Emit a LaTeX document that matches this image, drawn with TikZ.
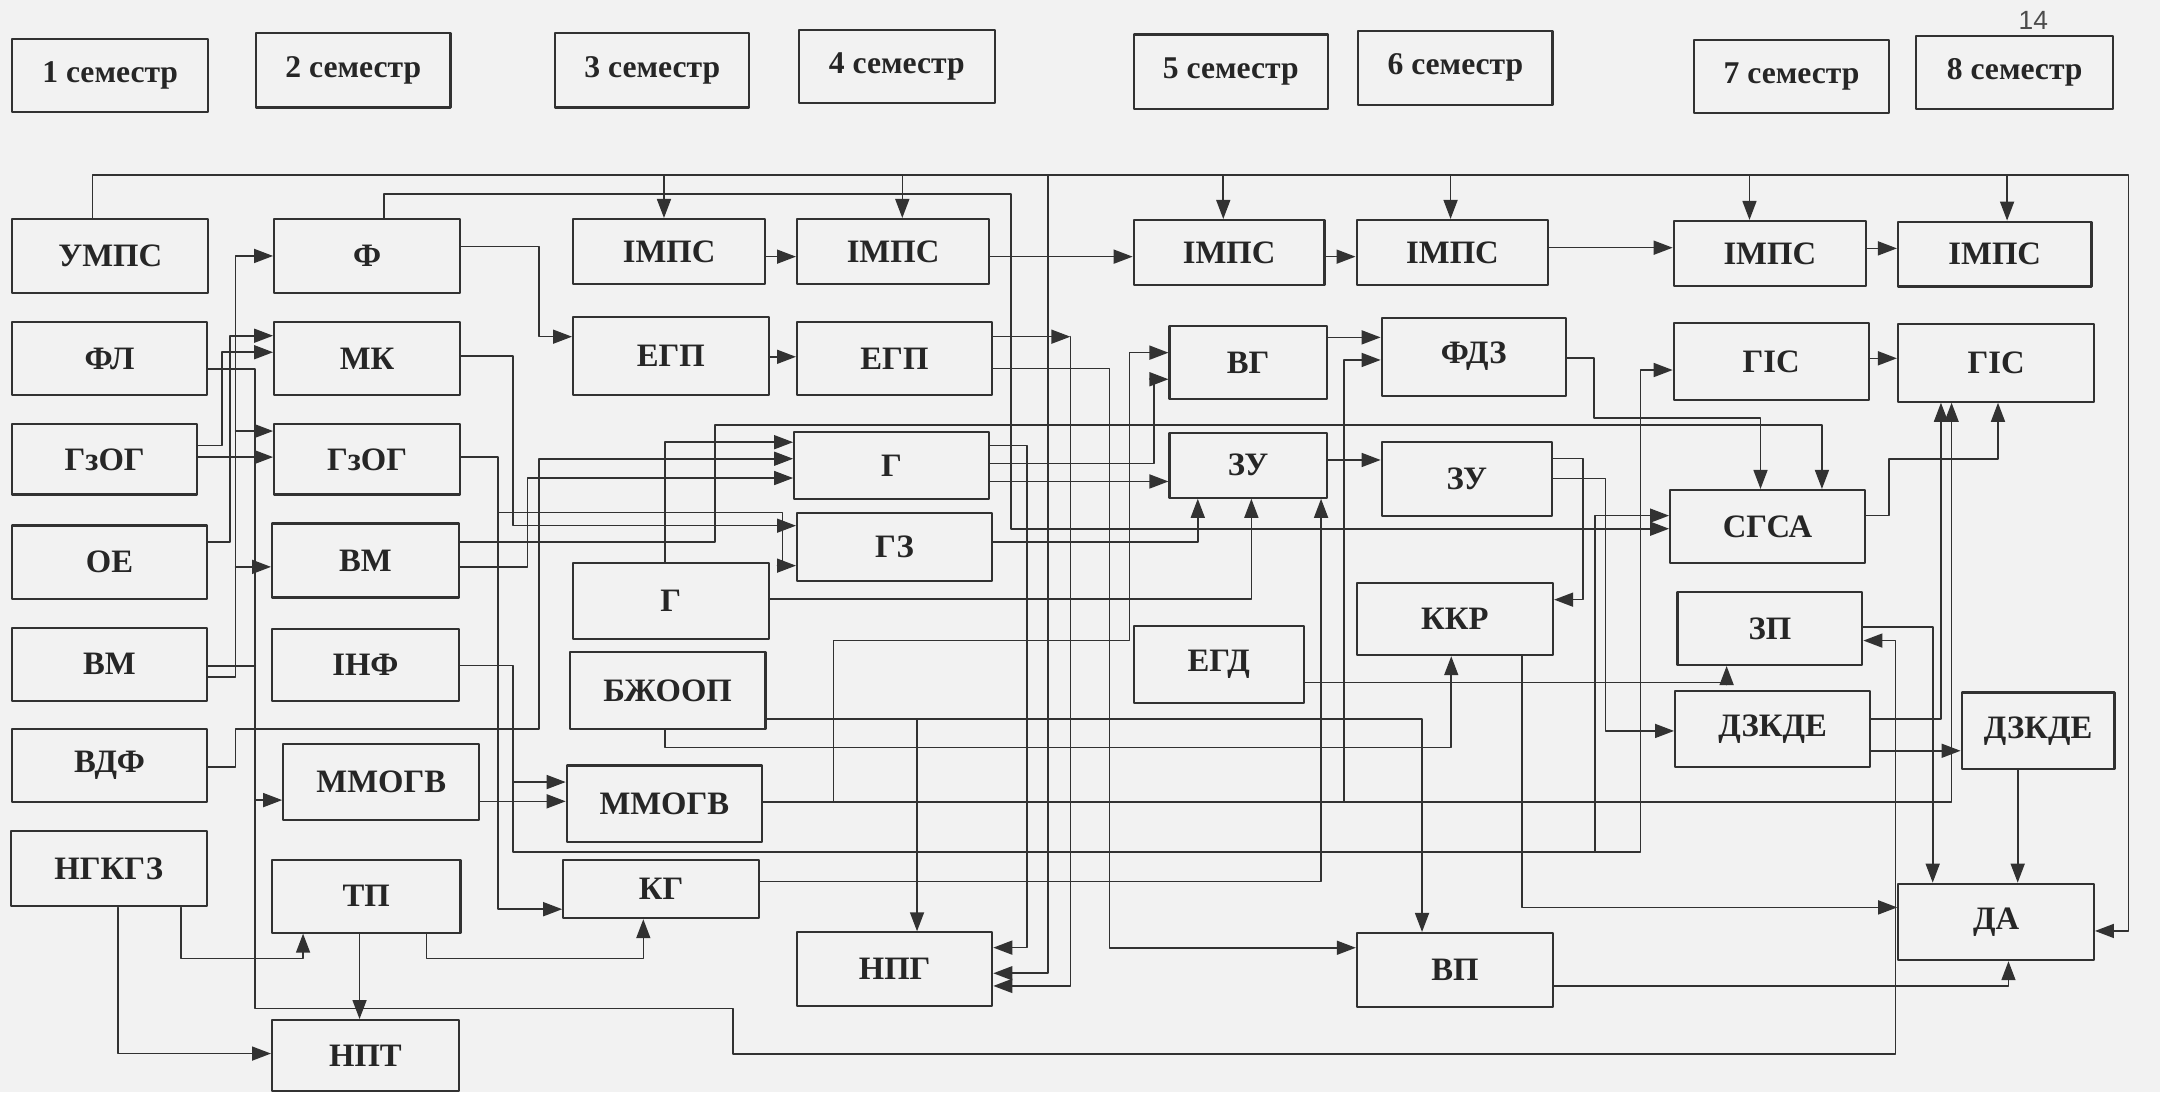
\documentclass[tikz,border=0pt]{standalone}
\usepackage{fontspec}
\setmainfont{Liberation Serif}
\newfontfamily\pgnum{Liberation Sans}
\usetikzlibrary{arrows.meta}
\definecolor{ln}{RGB}{50,50,50}
\definecolor{bg}{RGB}{242,242,242}
\begin{document}
\begin{tikzpicture}[x=0.13776mm, y=-0.13776mm, line cap=round, line join=round,
  box/.style={draw=ln, line width=0.6pt, inner sep=0pt, text=black!85, font=\fontsize{9.3}{11}\selectfont\bfseries},
  sem/.style={box, font=\fontsize{9}{11}\selectfont\bfseries},
  wire/.style={draw=ln, line width=0.45pt},
  arr/.style={wire, -{Triangle[length=1.9mm,width=1.4mm]}}]
\def\u{0.13776mm}
\def\blk#1#2#3#4#5#6#7{\node[#1, minimum width=(#5-#3)*\u, minimum height=(#6-#4)*\u] (#2) at ({(#3+#5)/2},{(#4+#6)/2}) {#7};}
\fill[bg] (0,0) rectangle (1568,793);
\useasboundingbox (0,0) rectangle (1568,793);
% semesters
\blk{sem}{s1}{9}{28}{151}{81}{1 семестр}
\blk{sem}{s2}{186}{24}{327}{78}{2 семестр}
\blk{sem}{s3}{403}{24}{544}{78}{3 семестр}
\blk{sem}{s4}{580}{22}{722}{75}{4 семестр}
\blk{sem}{s5}{823}{25}{964}{79}{5 семестр}
\blk{sem}{s6}{986}{22.5}{1127}{76}{6 семестр}
\blk{sem}{s7}{1230}{29}{1371}{82}{7 семестр}
\blk{sem}{s8}{1391}{26}{1534}{79}{8 семестр}
\node[font=\pgnum\fontsize{7.5}{9}\selectfont, text=black!70] (pg) at (1476,15) {14};
% column 1
\blk{box}{umps}{9}{159}{151}{213}{УМПС}
\blk{box}{fl}{9}{233.5}{150}{287}{ФЛ}
\blk{box}{gzog}{9}{308}{143}{359}{ГзОГ}
\blk{box}{oe}{9}{381.5}{150}{434.5}{ОЕ}
\blk{box}{vm}{9}{455.7}{150}{508.8}{ВМ}
\blk{box}{vdf}{9}{529.2}{150}{582.2}{ВДФ}
\blk{box}{ngkgz}{8}{603}{150}{658}{НГКГЗ}
% column 2
\blk{box}{f}{199}{159}{334}{213}{Ф}
\blk{box}{mk}{199}{233.5}{334}{287}{МК}
\blk{box}{gzogb}{199}{308}{334}{359}{ГзОГ}
\blk{box}{vmb}{197.5}{380}{333}{433.7}{ВМ}
\blk{box}{inf}{197.5}{456.3}{333}{508.9}{ІНФ}
\blk{box}{mmogv}{205.6}{539.8}{348}{595.5}{ММОГВ}
\blk{box}{tp}{197.5}{624}{334.3}{677}{ТП}
\blk{box}{npt}{197.5}{740.5}{333}{792}{НПТ}
% column 3
\blk{box}{imps3}{416}{159}{555.5}{206}{ІМПС}
\blk{box}{egp3}{416}{230}{558}{286.7}{ЕГП}
\blk{box}{g3}{416}{408.5}{558}{463.7}{Г}
\blk{box}{bzh}{413.5}{473.5}{555.7}{529.3}{БЖООП}
\blk{box}{mmogvb}{411.4}{555.7}{553.2}{611.5}{ММОГВ}
\blk{box}{kg}{408.9}{624}{551}{666.5}{КГ}
% column 4
\blk{box}{imps4}{578.6}{159}{718}{206}{ІМПС}
\blk{box}{egp4}{578.6}{233.5}{720}{286.7}{ЕГП}
\blk{box}{g4}{576.5}{313.5}{718}{362.5}{Г}
\blk{box}{gz}{578.6}{372.6}{720}{422}{ГЗ}
\blk{box}{npg}{578.6}{676.8}{720.3}{730.3}{НПГ}
% column 5
\blk{box}{imps5}{823}{159.7}{961.5}{206.9}{ІМПС}
\blk{box}{vg}{849}{236.6}{963}{289.9}{ВГ}
\blk{box}{zu5}{849}{314}{963}{361.3}{ЗУ}
\blk{box}{egd}{823}{454.4}{946.4}{510}{ЕГД}
% column 6
\blk{box}{imps6}{984.8}{159.7}{1124}{206.9}{ІМПС}
\blk{box}{fdz}{1003}{230.6}{1136.8}{287.2}{ФДЗ}
\blk{box}{zu6}{1003}{320.6}{1126.6}{374.3}{ЗУ}
\blk{box}{kkr}{984.9}{423}{1127.4}{475.6}{ККР}
\blk{box}{vp}{985}{677.3}{1127.4}{731}{ВП}
% column 7
\blk{box}{imps7}{1215}{160.4}{1354.5}{207.6}{ІМПС}
\blk{box}{gis7}{1215}{234.7}{1356.6}{290.4}{ГІС}
\blk{box}{sgsa}{1212.4}{355.7}{1353.8}{408.5}{СГСА}
\blk{box}{zp}{1217.7}{429.7}{1351.9}{482.7}{ЗП}
\blk{box}{dzk7}{1216}{501.4}{1357.5}{557}{ДЗКДЕ}
% column 8
\blk{box}{imps8}{1377.8}{160.9}{1518.3}{208}{ІМПС}
\blk{box}{gis8}{1377.8}{235.2}{1520.4}{291.6}{ГІС}
\blk{box}{dzk8}{1424}{502.7}{1535}{558.4}{ДЗКДЕ}
\blk{box}{da}{1378}{641.5}{1520}{697}{ДА}
% top buses
\draw[arr] (67,0 |- umps.north) -- (67,127) -- (1545,127) |- (da.east |- 0,675.8);
\foreach \n/\x in {imps3/482,imps4/655,imps5/888,imps6/1053,imps7/1270,imps8/1457}
  \draw[arr] (\x,127) -- (\x,0 |- \n.north);
\draw[arr] (760.6,127) |- (npg.east |- 0,706.5);
\draw[arr] (278.6,0 |- f.north) |- (734,141) |- (sgsa.west |- 0,383.8);
% from column 1
\draw[arr] (gzog.east |- 0,323.5) -| (161,255.7) -- (mk.west |- 0,255.7);
\draw[arr] (oe.east |- 0,393.5) -| (167,243.7) -- (mk.west |- 0,243.7);
\draw[arr] (gzog.east |- 0,331.8) -- (gzogb.west |- 0,331.8);
\draw[arr] (vm.east |- 0,491.5) -| (171,185.8) -- (f.west |- 0,185.8);
\draw[arr] (171,312.9) -- (gzogb.west |- 0,312.9);
\draw[arr] (171,411.5) -- (vmb.west |- 0,411.5);
\draw[arr] (fl.east |- 0,268) -| (185.3,732) -| (532,765) -| (1376,465) -- (zp.east |- 0,465);
\draw[arr] (185.3,580.8) -- (mmogv.west |- 0,580.8);
\draw[wire] (vm.east |- 0,483.6) -- (185.3,483.6);
\draw[arr] (vdf.east |- 0,556.8) -| (171,529.2) -| (391.4,333) -- (g4.west |- 0,333);
\draw[arr] (85.5,0 |- ngkgz.south) |- (npt.west |- 0,764.8);
\draw[arr] (131.6,0 |- ngkgz.south) |- (220,695.8) -- (220,0 |- tp.south);
\draw[arr] (261,0 |- tp.south) -- (261,0 |- npt.north);
\draw[arr] (309.7,0 |- tp.south) |- (467,695.8) -- (467,0 |- kg.south);
% from column 2
\draw[arr] (f.east |- 0,179) -| (391.3,244.4) -- (egp3.west |- 0,244.4);
\draw[arr] (mk.east |- 0,258.5) -| (372.4,381.6) -- (gz.west |- 0,381.6);
\draw[arr] (gzogb.east |- 0,331.8) -| (361.6,660) -- (kg.west |- 0,660);
\draw[arr] (361.6,372) -| (568,410.6) -- (gz.west |- 0,410.6);
\draw[arr] (vmb.east |- 0,393.4) -| (519,308.5) -| (1322.6,0 |- sgsa.north);
\draw[arr] (vmb.east |- 0,411.5) -| (383,347) -- (g4.west |- 0,347);
\draw[arr] (inf.east |- 0,483) -| (372.4,618.4) -| (1191,268.6) -- (gis7.west |- 0,268.6);
\draw[arr] (372.4,567.7) -- (mmogvb.west |- 0,567.7);
\draw[arr] (1157.8,618.4) |- (sgsa.west |- 0,374.3);
\draw[arr] (mmogv.east |- 0,581.7) -- (mmogvb.west |- 0,581.7);
% from columns 3 and 4
\draw[arr] (482.7,0 |- g3.north) |- (g4.west |- 0,321);
\draw[arr] (g3.east |- 0,435) -| (908.4,0 |- zu5.south);
\draw[arr] (bzh.east |- 0,522) -| (1032.3,0 |- vp.north);
\draw[arr] (665.7,522) -- (665.7,0 |- npg.north);
\draw[arr] (482.7,0 |- bzh.south) |- (1053.5,542.5) -- (1053.5,0 |- kkr.south);
\draw[arr] (mmogvb.east |- 0,582) -| (1416.7,0 |- gis8.south);
\draw[arr] (605,582) |- (820,465) |- (vg.west |- 0,256);
\draw[arr] (975.6,582) |- (fdz.west |- 0,261.3);
\draw[arr] (kg.east |- 0,640) -| (959,0 |- zu5.south);
\draw[arr] (imps3.east |- 0,186.3) -- (imps4.west |- 0,186.3);
\draw[arr] (egp3.east |- 0,259) -- (egp4.west |- 0,259);
\draw[arr] (imps4.east |- 0,186.3) -- (imps5.west |- 0,186.3);
\coordinate (egpj) at (777,244.4);
\draw[arr] (egp4.east |- egpj) -- (egpj);
\draw[arr] (egpj) |- (npg.east |- 0,715.7);
\draw[arr] (egp4.east |- 0,267.4) -| (805.5,688) -- (vp.west |- 0,688);
\draw[arr] (g4.east |- 0,323.5) -| (745.6,687.9) -- (npg.east |- 0,687.9);
\draw[arr] (g4.east |- 0,336.5) -| (837.6,275.3) -- (vg.west |- 0,275.3);
\draw[arr] (g4.east |- 0,349.5) -- (zu5.west |- 0,349.5);
\draw[arr] (gz.east |- 0,393.3) -| (869.5,0 |- zu5.south);
% from columns 5 to 8
\draw[arr] (vg.east |- 0,244.9) -- (fdz.west |- 0,244.9);
\draw[arr] (zu5.east |- 0,333.9) -- (zu6.west |- 0,333.9);
\draw[arr] (imps5.east |- 0,186.3) -- (imps6.west |- 0,186.3);
\draw[arr] (imps6.east |- 0,179.8) -- (imps7.west |- 0,179.8);
\draw[arr] (imps7.east |- 0,180.3) -- (imps8.west |- 0,180.3);
\draw[arr] (fdz.east |- 0,260) -| (1157,303.4) -| (1278,0 |- sgsa.north);
\draw[arr] (zu6.east |- 0,332.7) -| (1149,435.3) -- (kkr.east |- 0,435.3);
\draw[arr] (zu6.east |- 0,347.2) -| (1165.5,530.6) -- (dzk7.west |- 0,530.6);
\draw[arr] (egd.east |- 0,495.5) -| (1253.4,0 |- zp.south);
\draw[arr] (1104.8,0 |- kkr.south) |- (da.west |- 0,658.7);
\draw[arr] (vp.east |- 0,715.7) -| (1458,0 |- da.south);
\draw[arr] (gis7.east |- 0,260.1) -- (gis8.west |- 0,260.1);
\draw[arr] (sgsa.east |- 0,374.3) -| (1371.3,333.4) -| (1450.4,0 |- gis8.south);
\draw[arr] (zp.east |- 0,455.2) -| (1403,0 |- da.north);
\draw[arr] (dzk7.east |- 0,522) -| (1409,0 |- gis8.south);
\draw[arr] (dzk7.east |- 0,545) -- (dzk8.west |- 0,545);
\draw[arr] (1464.7,0 |- dzk8.south) -- (1464.7,0 |- da.north);
\end{tikzpicture}
\end{document}
